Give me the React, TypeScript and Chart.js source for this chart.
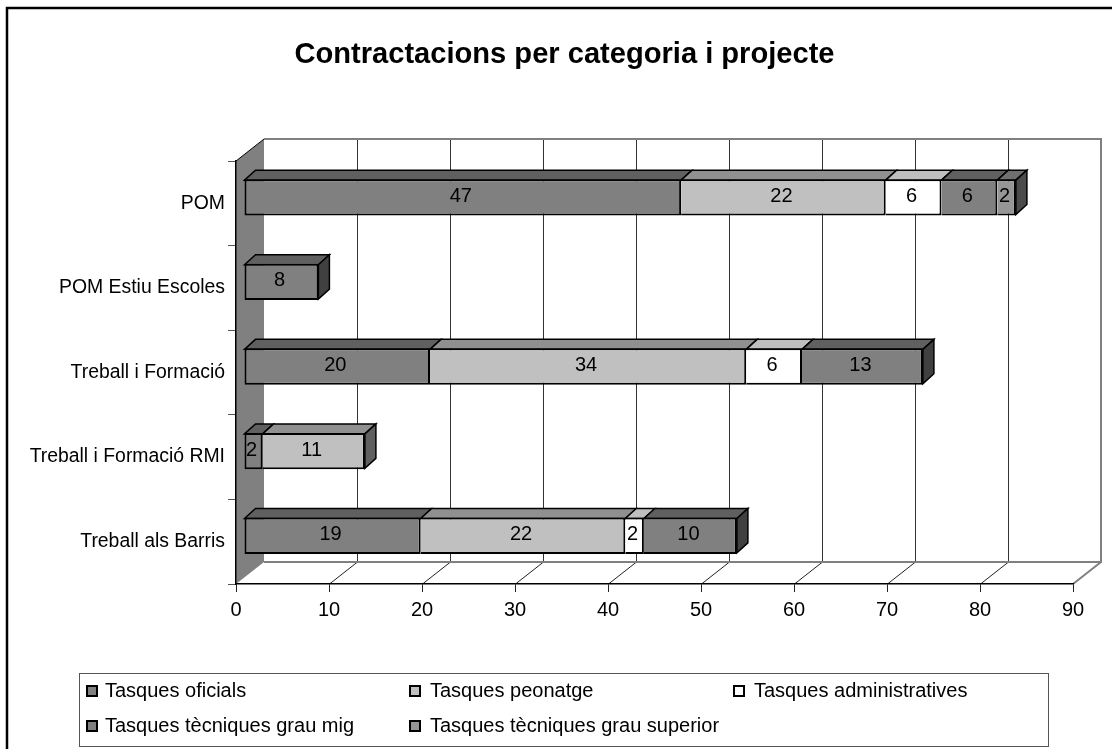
import React, { useEffect, useRef } from "react";
import { Chart, registerables } from "chart.js";

Chart.register(...registerables);

const categories = ["POM", "POM Estiu Escoles", "Treball i Formació", "Treball i Formació RMI", "Treball als Barris"];
const oficials = [47, 8, 20, 2, 19];
const peonatge = [22, null, 34, 11, 22];
const administratives = [6, null, 6, null, 2];
const tecniquesMig = [6, null, 13, null, 10];
const tecniquesSuperior = [2, null, null, null, null];
const seriesNames = ["Tasques oficials", "Tasques peonatge", "Tasques administratives", "Tasques tècniques grau mig", "Tasques tècniques grau superior"];
const frontColors = ["#808080", "#C0C0C0", "#FFFFFF", "#808080", "#969696"];
const topColors = ["#606060", "#909090", "#BFBFBF", "#606060", "#707070"];
const sideColors = ["#404040", "#606060", "#808080", "#404040", "#4B4B4B"];
const seriesValues = [oficials, peonatge, administratives, tecniquesMig, tecniquesSuperior];
const xTicks = [0, 10, 20, 30, 40, 50, 60, 70, 80, 90];

const FONT = '"Liberation Sans", Arial, sans-serif';
const WALL_DX = 28, WALL_DY = 22;
const BAR_SHIFT_X = 8, BAR_SHIFT_Y = 6;
const BAR_DX = 11, BAR_DY = 10;

const poly = (ctx: any, pts: number[][], fill?: string, stroke?: string, lw = 1) => {
  ctx.beginPath();
  pts.forEach((p, i) => (i ? ctx.lineTo(p[0], p[1]) : ctx.moveTo(p[0], p[1])));
  ctx.closePath();
  if (fill) { ctx.fillStyle = fill; ctx.fill(); }
  if (stroke) { ctx.strokeStyle = stroke; ctx.lineWidth = lw; ctx.stroke(); }
};
const line = (ctx: any, x1: number, y1: number, x2: number, y2: number, c: string, lw = 1) => {
  ctx.beginPath(); ctx.moveTo(x1, y1); ctx.lineTo(x2, y2);
  ctx.strokeStyle = c; ctx.lineWidth = lw; ctx.stroke();
};

const scene3d = {
  id: "scene3d",
  beforeDraw(chart: any) {
    const { ctx, chartArea: a, scales } = chart;
    ctx.save();
    ctx.fillStyle = "#fff";
    ctx.fillRect(0, 0, chart.width, chart.height);
    ctx.strokeStyle = "#000"; ctx.lineWidth = 2.5;
    ctx.beginPath(); ctx.moveTo(7, 760); ctx.lineTo(7, 8); ctx.lineTo(1120, 8); ctx.stroke();
    poly(ctx, [[a.left, a.top], [a.left + WALL_DX, a.top - WALL_DY], [a.left + WALL_DX, a.bottom - WALL_DY], [a.left, a.bottom]], "#808080");
    for (const t of xTicks) {
      const x = Math.round(scales.x.getPixelForValue(t)) + 0.5;
      if (t > 0 && t < 90) {
        line(ctx, x + WALL_DX, a.top - WALL_DY, x + WALL_DX, a.bottom - WALL_DY, "#333");
        line(ctx, x, a.bottom, x + WALL_DX, a.bottom - WALL_DY, "#222");
      }
    }
    const bx0 = a.left + WALL_DX, bx1 = a.right + WALL_DX;
    const by0 = a.top - WALL_DY, by1 = a.bottom - WALL_DY;
    ctx.strokeStyle = "#808080"; ctx.lineWidth = 2;
    ctx.beginPath();
    ctx.moveTo(bx0, by0); ctx.lineTo(bx1, by0); ctx.lineTo(bx1, by1); ctx.lineTo(bx0, by1);
    ctx.moveTo(bx1, by1); ctx.lineTo(a.right, a.bottom);
    ctx.stroke();
    line(ctx, a.left, a.top, bx0, by0, "#000");
    ctx.restore();
  },
  beforeDatasetsDraw(chart: any) {
    const { ctx } = chart;
    ctx.save();
    ctx.translate(BAR_SHIFT_X, -BAR_SHIFT_Y);
    chart.data.datasets.forEach((ds: any, di: number) => {
      chart.getDatasetMeta(di).data.forEach((el: any, i: number) => {
        if (ds.data[i] == null) return;
        const p = el.getProps(["x", "y", "base", "height"], true);
        const top = p.y - p.height / 2 + 1, bottom = p.y + p.height / 2 - 1;
        poly(ctx, [[p.base, top], [p.base + BAR_DX, top - BAR_DY], [p.x + BAR_DX, top - BAR_DY], [p.x, top]], topColors[di], "#000", 1.5);
        const isLast = !chart.data.datasets.slice(di + 1).some((d: any) => d.data[i] != null);
        if (isLast) {
          poly(ctx, [[p.x, top], [p.x + BAR_DX, top - BAR_DY], [p.x + BAR_DX, bottom - BAR_DY], [p.x, bottom]], sideColors[di], "#000", 1.5);
        }
      });
    });
  },
  afterDatasetsDraw(chart: any) {
    const { ctx } = chart;
    ctx.font = `20px ${FONT}`;
    ctx.fillStyle = "#000";
    ctx.textAlign = "center";
    ctx.textBaseline = "middle";
    chart.data.datasets.forEach((ds: any, di: number) => {
      chart.getDatasetMeta(di).data.forEach((el: any, i: number) => {
        if (ds.data[i] == null) return;
        const p = el.getProps(["x", "y", "base"], true);
        ctx.fillText(String(ds.data[i]), (p.x + p.base) / 2 - 2, p.y - 1);
      });
    });
    ctx.restore();
  },
  afterDraw(chart: any) {
    const { ctx } = chart;
    ctx.save();
    const lx0 = 79, ly0 = 673, lx1 = 1048, ly1 = 746;
    ctx.strokeStyle = "#555"; ctx.lineWidth = 1;
    ctx.strokeRect(lx0 + 0.5, ly0 + 0.5, lx1 - lx0, ly1 - ly0);
    const markerX = [87, 410, 734];
    const textX = [105, 430, 754];
    const rowY = [691, 726];
    ctx.font = `20px ${FONT}`;
    ctx.textAlign = "left";
    ctx.textBaseline = "middle";
    chart.data.datasets.forEach((ds: any, i: number) => {
      const c = i % 3, cy = rowY[Math.floor(i / 3)];
      ctx.fillStyle = frontColors[i];
      ctx.strokeStyle = "#000"; ctx.lineWidth = 2;
      ctx.fillRect(markerX[c], cy - 5, 10, 10);
      ctx.strokeRect(markerX[c], cy - 5, 10, 10);
      ctx.fillStyle = "#000";
      ctx.fillText(ds.label, textX[c], cy);
    });
    ctx.restore();
  },
};

export default function App() {
  const ref = useRef<HTMLCanvasElement>(null);
  useEffect(() => {
    document.body.style.margin = "0";
    const chart = new Chart(ref.current as HTMLCanvasElement, {
      type: "bar",
      data: {
        labels: categories,
        datasets: seriesNames.map((label, i) => ({
          label,
          data: seriesValues[i],
          backgroundColor: frontColors[i],
          borderColor: "#000",
          borderWidth: { left: i === 0 ? 2 : 0, right: 2, top: 2, bottom: 2 },
          borderSkipped: false,
          barPercentage: 1,
          categoryPercentage: 0.43,
          stack: "s",
        })),
      },
      plugins: [scene3d],
      options: {
        indexAxis: "y",
        responsive: false,
        animation: false,
        layout: { padding: { left: 56, right: 39, top: 0, bottom: 0 } },
        plugins: {
          legend: { display: false },
          tooltip: { enabled: false },
          title: {
            display: true,
            text: "Contractacions per categoria i projecte",
            color: "#000",
            font: { family: FONT, size: 29.1, weight: "bold", lineHeight: 1.2 },
            padding: { top: 37.5, bottom: 88.6 },
          },
        },
        scales: {
          x: {
            type: "linear",
            stacked: true,
            min: 0,
            max: 90,
            afterFit: (s: any) => { s.height = 165; },
            afterBuildTicks: (s: any) => { s.ticks = xTicks.map((value) => ({ value })); },
            border: { display: true, color: "#000", width: 1.5 },
            grid: { drawOnChartArea: false, drawTicks: true, tickLength: 8, color: "#222" },
            ticks: { color: "#000", padding: 6, font: { family: FONT, size: 20 }, maxRotation: 0 },
          },
          y: {
            type: "category",
            stacked: true,
            afterFit: (s: any) => {
              s.width = 180;
              // the longest label runs past the scale box, as in the reference: don't clip it
              s._computeLabelArea = () => undefined;
            },
            border: { display: true, color: "#000", width: 1.5 },
            grid: { drawOnChartArea: false, drawTicks: true, tickLength: 8, color: "#555", offset: true },
            ticks: { color: "#000", padding: 3, font: { family: FONT, size: 19.4 }, autoSkip: false },
          },
        },
      } as any,
    } as any);
    return () => chart.destroy();
  }, []);
  return <canvas ref={ref} width={1112} height={749} style={{ display: "block" }} />;
}
